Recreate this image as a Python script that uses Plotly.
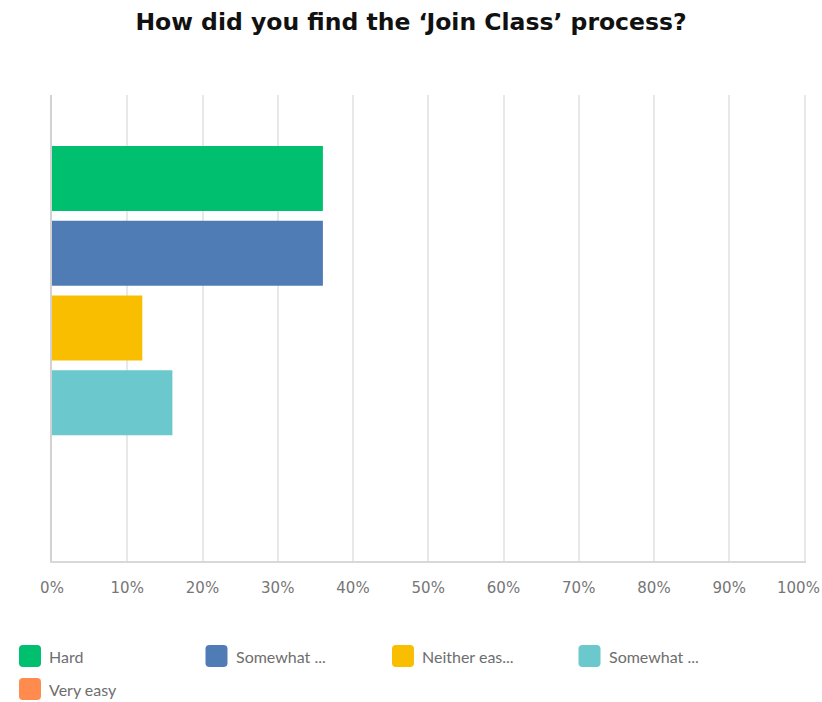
import plotly.graph_objects as go

# Survey answers and their share of respondents (%)
categories = ["Hard", "Somewhat hard", "Neither easy nor hard", "Somewhat easy", "Very easy"]
legend_labels = ["Hard", "Somewhat ...", "Neither eas...", "Somewhat ...", "Very easy"]
shares = [36, 36, 12, 16, 0]
colors = ["#00BF6F", "#507CB6", "#F9BE00", "#6BC8CD", "#FF8B4F"]
x_tickvals = [0, 10, 20, 30, 40, 50, 60, 70, 80, 90, 100]
x_ticktext = ["0%", "10%", "20%", "30%", "40%", "50%", "60%", "70%", "80%", "90%", "100%"]

W, H = 822, 702
ML, MR, MT, MB = 52, 16, 95, 141
PW, PH = W - ML - MR, H - MT - MB
tick_font = dict(family="DejaVu Sans", size=15, color="#767676")

fig = go.Figure()
fig.add_trace(go.Bar(
    y=categories, x=shares, orientation="h",
    marker=dict(color=colors, line=dict(width=0)),
    width=0.87, showlegend=False, hoverinfo="x+y",
))

pad = 1.118
fig.update_yaxes(
    type="category", categoryorder="array", categoryarray=categories,
    range=[len(categories) - 1 + pad, -pad],
    showticklabels=False, showgrid=False, zeroline=False,
    showline=True, linecolor="#d2d2d2", linewidth=1.5,
)
# the last tick label sits flush with the right edge, so it is placed separately
fig.update_xaxes(
    range=[0, 100.2], tickvals=x_tickvals, ticktext=x_ticktext[:-1] + [""],
    showgrid=True, gridcolor="#e8e8e8", gridwidth=1.5, zeroline=False,
    showline=True, linecolor="#d8d8d8", linewidth=2,
    ticks="", ticklabelstandoff=12, tickfont=tick_font,
)

annotations = [dict(x=x_tickvals[-1], y=0, xref="x", yref="paper",
                    text=x_ticktext[-1], showarrow=False,
                    xanchor="right", yanchor="middle", xshift=17, yshift=-27,
                    font=tick_font)]

# Custom legend: rounded colour swatches with grey labels
def px_to_paper(px, py):
    return (px - ML) / PW, ((MT + PH) - py) / PH

r, s = 4, 11
swatch = (f"M {-s+r},{-s} L {s-r},{-s} Q {s},{-s} {s},{-s+r} L {s},{s-r} Q {s},{s} {s-r},{s} "
          f"L {-s+r},{s} Q {-s},{s} {-s},{s-r} L {-s},{-s+r} Q {-s},{-s} {-s+r},{-s} Z")
shapes = []
for i, (lab, col) in enumerate(zip(legend_labels, colors)):
    row, colno = divmod(i, 4)
    cx = 30 + colno * 186.5
    cy = 656 + row * 33
    xp, yp = px_to_paper(cx, cy)
    shapes.append(dict(type="path", xref="paper", yref="paper",
                       xsizemode="pixel", ysizemode="pixel",
                       xanchor=xp, yanchor=yp, path=swatch,
                       fillcolor=col, line=dict(width=0)))
    tx, _ = px_to_paper(cx + s + 6, cy)
    annotations.append(dict(x=tx, y=yp, xref="paper", yref="paper",
                            text=lab, showarrow=False, xanchor="left", yanchor="middle",
                            font=dict(family="Lato", size=16, color="#6e6e6e")))

fig.update_layout(
    width=W, height=H,
    margin=dict(l=ML, r=MR, t=MT, b=MB),
    paper_bgcolor="white", plot_bgcolor="white",
    title=dict(text="<b>How did you find the ‘Join Class’ process?</b>",
               x=0.5, xanchor="center", xref="container",
               y=1 - 22 / H, yanchor="middle", yref="container",
               font=dict(family="DejaVu Sans", size=23.5, color="#111111")),
    shapes=shapes, annotations=annotations,
    bargap=0.13, showlegend=False,
)

fig.write_html("out.html")
